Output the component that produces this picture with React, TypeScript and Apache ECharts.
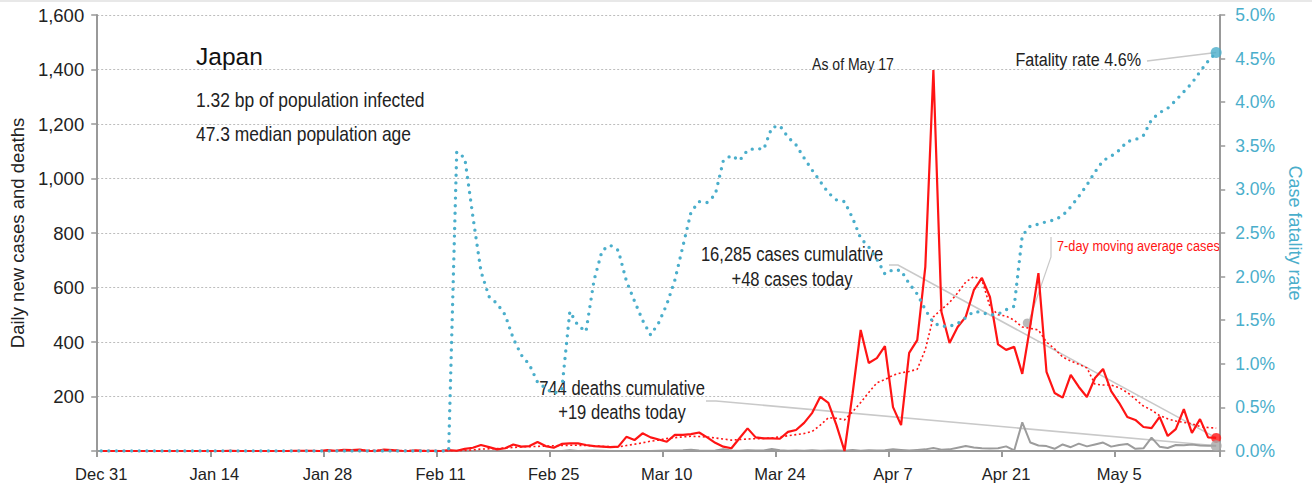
import React, { useEffect, useRef } from "react";
import * as echarts from "echarts";

const FONT = '"Liberation Sans", Arial, "DejaVu Sans", sans-serif';
const TEAL = "#4aaecb";
const RED = "#ff1414";
const GRAY = "#9c9c9c";
const LEADER = "#c9c9c9";
const TEXT = "#222222";
const NARROW = 0.85;

const MONTHS = ["Jan", "Feb", "Mar", "Apr", "May", "Jun", "Jul", "Aug", "Sep", "Oct", "Nov", "Dec"];
const START_UTC = Date.UTC(2019, 11, 31);
const DAY_COUNT = 139;
const categories: string[] = Array.from({ length: DAY_COUNT }, (_, i) => {
  const d = new Date(START_UTC + i * 86400000);
  return `${MONTHS[d.getUTCMonth()]} ${d.getUTCDate()}`;
});

// Daily new cases (Dec 31 .. May 17)
const dailyCases = [
  0, 0, 0, 0, 0, 0, 0, 0, 0, 0,
  0, 0, 0, 0, 0, 0, 1, 0, 0, 0,
  0, 0, 0, 0, 1, 1, 1, 0, 3, 1,
  4, 3, 5, 0, 0, 5, 3, 1, 0, 2,
  0, 1, 0, 3, 1, 8, 12, 22, 14, 6,
  10, 24, 16, 18, 33, 18, 12, 26, 28, 28,
  22, 18, 16, 14, 16, 52, 40, 65, 50, 42,
  34, 59, 59, 62, 68, 50, 30, 16, 10, 47,
  83, 50, 46, 46, 45, 70, 77, 103, 140, 199,
  177, 95, 0, 211, 444, 323, 341, 385, 161, 95,
  360, 407, 676, 1398, 510, 396, 455, 492, 590, 635,
  565, 391, 371, 382, 283, 462, 653, 290, 213, 196,
  279, 235, 198, 268, 301, 220, 176, 125, 114, 88,
  84, 125, 55, 80, 154, 66, 117, 50, 48,
];

// 7-day moving average of cases
const movingAvgCases = [
  0, 0, 0, 0, 0, 0, 0, 0, 0, 0,
  0, 0, 0, 0, 0, 0, 0, 0, 0, 0,
  0, 0, 0, 0, 0, 1, 1, 1, 1, 1,
  2, 2, 2, 3, 3, 3, 3, 2, 2, 2,
  2, 1, 1, 1, 1, 2, 4, 7, 8, 9,
  11, 13, 15, 16, 17, 18, 19, 20, 21, 21,
  20, 19, 17, 16, 15, 20, 25, 30, 36, 40,
  46, 49, 52, 54, 53, 51, 48, 44, 40, 42,
  44, 45, 46, 48, 52, 56, 60, 64, 72, 95,
  122, 120, 114, 144, 178, 215, 250, 262, 278, 287,
  292, 300, 372, 492, 520, 545, 580, 620, 640, 628,
  530, 500, 495, 480, 455, 450, 444, 400, 375, 345,
  330, 318, 305, 245, 242, 242, 232, 215, 190, 165,
  150, 130, 118, 110, 105, 100, 90, 86, 84,
];

// Daily new deaths
const dailyDeaths = [
  0, 0, 0, 0, 0, 0, 0, 0, 0, 0,
  0, 0, 0, 0, 0, 0, 0, 0, 0, 0,
  0, 0, 0, 0, 0, 0, 0, 0, 0, 0,
  0, 0, 0, 0, 0, 0, 0, 0, 0, 0,
  0, 0, 0, 0, 1, 0, 0, 0, 0, 0,
  0, 0, 0, 0, 0, 0, 0, 0, 3, 0,
  1, 2, 1, 0, 0, 0, 0, 0, 0, 1,
  2, 2, 3, 5, 2, 1, 2, 6, 2, 1,
  3, 2, 2, 7, 3, 1, 2, 1, 3, 1,
  2, 2, 1, 4, 1, 3, 2, 3, 6, 4,
  2, 4, 6, 11, 5, 6, 12, 18, 13, 10,
  9, 10, 17, 2, 105, 31, 20, 18, 8, 24,
  14, 27, 17, 24, 31, 16, 22, 26, 8, 10,
  49, 16, 11, 22, 21, 24, 20, 19, 19,
];

// Case fatality rate, percent
const fatalityRate = [
  0, 0, 0, 0, 0, 0, 0, 0, 0, 0,
  0, 0, 0, 0, 0, 0, 0, 0, 0, 0,
  0, 0, 0, 0, 0, 0, 0, 0, 0, 0,
  0, 0, 0, 0, 0, 0, 0, 0, 0, 0,
  0, 0, 0, 0, 3.43, 3.36, 2.69, 2.06, 1.77, 1.69,
  1.56, 1.29, 1.1, 0.99, 0.79, 0.72, 0.66, 0.7, 1.6, 1.44,
  1.37, 1.96, 2.3, 2.36, 2.3, 1.95, 1.72, 1.5, 1.33, 1.47,
  1.68, 1.96, 2.35, 2.74, 2.86, 2.85, 2.94, 3.33, 3.39, 3.33,
  3.45, 3.47, 3.46, 3.71, 3.73, 3.6, 3.51, 3.36, 3.22, 3.09,
  2.96, 2.88, 2.86, 2.67, 2.44, 2.34, 2.2, 2.03, 2.08, 2.07,
  1.92, 1.8, 1.62, 1.47, 1.43, 1.43, 1.46, 1.53, 1.6, 1.59,
  1.56, 1.57, 1.62, 1.66, 2.47, 2.58, 2.6, 2.63, 2.65, 2.7,
  2.8, 2.92, 3.05, 3.2, 3.33, 3.38, 3.45, 3.55, 3.57, 3.62,
  3.8, 3.88, 3.93, 4.02, 4.12, 4.22, 4.35, 4.47, 4.57,
];

const COUNTRY = "Japan";
const INFO_LINES = ["1.32 bp of population infected", "47.3 median population age"];
const CASES_NOTE = ["16,285 cases cumulative", "+48 cases today"];
const DEATHS_NOTE = ["744 deaths cumulative", "+19 deaths today"];
const RATE_NOTE = "Fatality rate 4.6%";
const AS_OF = "As of May 17";
const AVG_NOTE = "7-day moving average cases";
const AVG_NOTE_INDEX = 114;

function txt(text: string, x: number, y: number, size: number, align = "left", fill = TEXT, scaleX = NARROW) {
  return {
    type: "text",
    silent: true,
    x,
    y,
    scaleX,
    scaleY: 1,
    style: {
      text,
      fill,
      font: `${size}px ${FONT}`,
      align,
      textAlign: align,
      verticalAlign: "middle",
      textVerticalAlign: "middle",
    },
  };
}

function pline(points: number[][], color = LEADER, width = 1.6) {
  return {
    type: "polyline",
    silent: true,
    shape: { points },
    style: { stroke: color, lineWidth: width, fill: "none" },
  };
}

export default function App() {
  const ref = useRef<HTMLDivElement>(null);

  useEffect(() => {
    if (!ref.current) return;
    const chart = echarts.init(ref.current, null, { renderer: "svg" });
    const last = DAY_COUNT - 1;

    const option: any = {
      animation: false,
      backgroundColor: "#ffffff",
      textStyle: { fontFamily: FONT },
      grid: { left: 96, right: 90, top: 15, bottom: 37, containLabel: false },
      xAxis: {
        type: "category",
        data: categories,
        boundaryGap: true,
        axisLine: { show: true, lineStyle: { color: "#999999", width: 2 } },
        axisTick: { show: true, interval: 13, length: 6, lineStyle: { color: "#999999", width: 2 } },
        axisLabel: { interval: 13, fontSize: 16.5, color: TEXT, margin: 14, fontFamily: FONT },
        splitLine: { show: false },
      },
      yAxis: [
        {
          type: "value",
          min: 0,
          max: 1600,
          interval: 200,
          position: "left",
          name: "Daily new cases and deaths",
          nameLocation: "middle",
          nameRotate: 90,
          nameGap: 70,
          nameTextStyle: { fontSize: 18.5, color: TEXT, fontFamily: FONT },
          axisLine: { show: true, lineStyle: { color: "#999999", width: 2 } },
          axisTick: { show: true, length: 6, lineStyle: { color: "#999999", width: 1.5 } },
          axisLabel: {
            fontSize: 18.5,
            color: TEXT,
            margin: 13,
            fontFamily: FONT,
            formatter: (v: number) => (v === 0 ? "" : v.toLocaleString("en-US")),
          },
          splitLine: { show: true, lineStyle: { color: "#bdbdbd", type: [2, 2], width: 1 } },
        },
        {
          type: "value",
          min: 0,
          max: 5,
          interval: 0.5,
          position: "right",
          name: "Case fatality rate",
          nameLocation: "middle",
          nameRotate: -90,
          nameGap: 62,
          nameTextStyle: { fontSize: 18, color: TEAL, fontFamily: FONT },
          axisLine: { show: true, lineStyle: { color: "#999999", width: 2 } },
          axisTick: { show: true, length: 5, lineStyle: { color: "#999999", width: 1.5 } },
          axisLabel: {
            fontSize: 17.5,
            color: TEAL,
            margin: 15,
            fontFamily: FONT,
            formatter: (v: number) => `${v.toFixed(1)}%`,
          },
          splitLine: { show: false },
        },
      ],
      series: [
        {
          name: "Deaths",
          type: "line",
          data: dailyDeaths,
          symbol: "none",
          lineStyle: { color: GRAY, width: 2 },
          itemStyle: { color: GRAY },
          z: 2,
        },
        {
          name: "7-day average",
          type: "line",
          data: movingAvgCases,
          symbol: "none",
          lineStyle: { color: RED, width: 1.6, type: [2, 2.6] },
          itemStyle: { color: RED },
          z: 3,
        },
        {
          name: "Cases",
          type: "line",
          data: dailyCases,
          symbol: "none",
          lineStyle: { color: RED, width: 2.2 },
          itemStyle: { color: RED },
          z: 4,
        },
        {
          name: "Fatality rate",
          type: "line",
          yAxisIndex: 1,
          data: fatalityRate,
          symbol: "none",
          lineStyle: { color: TEAL, width: 3.4, type: [0, 7.6], cap: "round" },
          itemStyle: { color: TEAL },
          z: 5,
        },
        {
          type: "scatter",
          data: [[last, dailyCases[last]]],
          symbolSize: 10,
          itemStyle: { color: RED },
          z: 6,
          silent: true,
        },
        {
          type: "scatter",
          data: [[last, dailyDeaths[last]]],
          symbolSize: 11,
          itemStyle: { color: "#a8a8a8" },
          z: 6,
          silent: true,
        },
        {
          type: "scatter",
          yAxisIndex: 1,
          data: [[last, fatalityRate[last]]],
          symbolSize: 11,
          itemStyle: { color: TEAL },
          z: 7,
          silent: true,
        },
      ],
    };

    chart.setOption(option);

    const pc = chart.convertToPixel({ seriesIndex: 2 }, [last, dailyCases[last]]) as number[];
    const pd = chart.convertToPixel({ seriesIndex: 0 }, [last, dailyDeaths[last]]) as number[];
    const pr = chart.convertToPixel({ seriesIndex: 3 }, [last, fatalityRate[last]]) as number[];
    const pa = chart.convertToPixel({ seriesIndex: 1 }, [AVG_NOTE_INDEX, movingAvgCases[AVG_NOTE_INDEX]]) as number[];

    chart.setOption({
      graphic: [
        { type: "rect", silent: true, shape: { x: 0, y: 0, width: 1312, height: 2 }, style: { fill: "#e8e8e8" } },
        txt(COUNTRY, 196, 56, 24.5, "left", "#111111", 1),
        txt(INFO_LINES[0], 196, 100, 20.5),
        txt(INFO_LINES[1], 196, 134, 20.5),
        txt(AS_OF, 853, 64, 16.5, "center"),
        pline([[1147, 61], [pr[0], pr[1]]]),
        txt(RATE_NOTE, 1141, 60, 19, "right"),
        pline([[889, 265], [898, 265], [pc[0], pc[1]]]),
        txt(CASES_NOTE[0], 792, 255, 19.5, "center"),
        txt(CASES_NOTE[1], 792, 280, 19.5, "center"),
        pline([[706, 401], [716, 401], [pd[0], pd[1]]]),
        txt(DEATHS_NOTE[0], 622, 389, 19.5, "center"),
        txt(DEATHS_NOTE[1], 622, 413, 19.5, "center"),
        pline([[1051, 237], [1051, 257], [pa[0] + 6, pa[1] - 4]], LEADER, 1.2),
        { type: "circle", silent: true, shape: { cx: pa[0] + 5, cy: pa[1] - 4, r: 4.5 }, style: { fill: "#b9b9b9" } },
        txt(AVG_NOTE, 1057, 246, 15, "left", RED),
      ],
    });

    return () => chart.dispose();
  }, []);

  return (
    <div
      ref={ref}
      style={{ position: "fixed", left: 0, top: 0, width: 1312, height: 488, background: "#fff" }}
    />
  );
}
